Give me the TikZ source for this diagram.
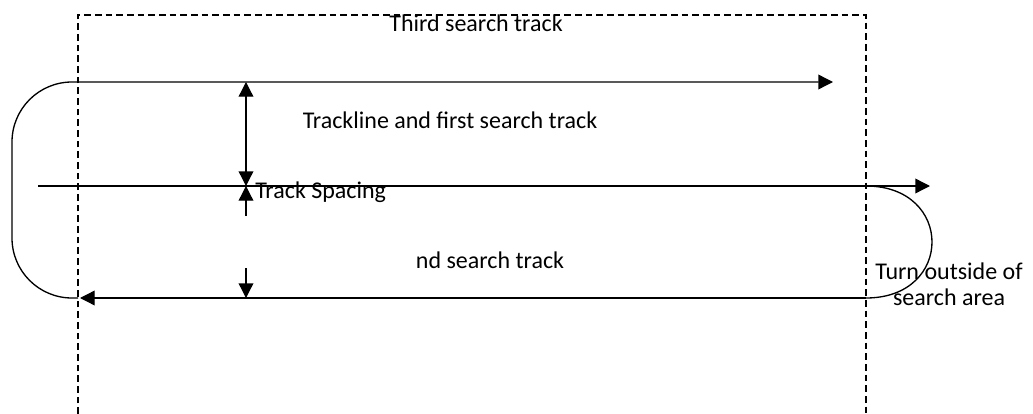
\documentclass[tikz,border=0pt]{standalone}
\usepackage{fontspec}
\setmainfont{Carlito}
\usetikzlibrary{arrows.meta, positioning}

\begin{document}
\begin{tikzpicture}[
  x=0.75pt, y=-0.75pt,
  track/.style={line width=1pt, -{Triangle[length=11pt, width=11pt]}},
  turn/.style={line width=1pt},
  spacing/.style={line width=1pt, -{Triangle[length=11pt, width=11pt]}},
  area/.style={line width=0.8pt, dash pattern=on 5pt off 3pt},
  label/.style={inner sep=0pt, font=\fontsize{18}{19.5}\selectfont}
]
  \useasboundingbox (0,0) rectangle (1033,414);

  % search area (open at the bottom)
  \coordinate (aBL) at (78,414);
  \coordinate (aTL) at (78,15);
  \coordinate (aTR) at (866,15);
  \coordinate (aBR) at (866,414);
  \draw[area] (aBL) -- (aTL) -- (aTR) -- (aBR);

  % tracks
  \coordinate (t1s) at (12,82);
  \coordinate (t1e) at (833,82);
  \coordinate (lineS) at (38,186);
  \coordinate (lineE) at (930,186);
  \coordinate (t2s) at (866,298);
  \coordinate (t2e) at (80,298);
  \coordinate (turnL) at (78,298);
  \coordinate (cornerL) at (12,298);
  \coordinate (turnR) at (866,186);
  \draw[track] (lineS) -- (lineE);
  \draw[track] (t2s) -- (t2e);
  \draw[track, rounded corners=45pt] (turnL) -- (cornerL) -- (t1s) -- (t1e);
  \draw[turn] (turnR) .. controls (954,186) and (954,298) .. (t2s);

  % track spacing
  \coordinate (d1) at (246,82);
  \coordinate (d2) at (246,186);
  \coordinate (d3) at (246,216);
  \coordinate (d4) at (246,268);
  \coordinate (d5) at (246,298);
  \draw[spacing, {Triangle[length=11pt, width=11pt]}-{Triangle[length=11pt, width=11pt]}] (d1) -- (d2);
  \draw[spacing] (d3) -- (d2);
  \draw[spacing] (d4) -- (d5);

  % labels
  \node[label] (third) at (476,23) {Third search track};
  \node[label] (first) at (450,120) {Trackline and first search track};
  \node[label, anchor=west] (space) at (255,192) {Track Spacing};
  \node[label] (second) at (490,260) {nd search track};
  \node[label, align=center] (outside) at (949,284) {Turn outside of\\search area};
\end{tikzpicture}
\end{document}
